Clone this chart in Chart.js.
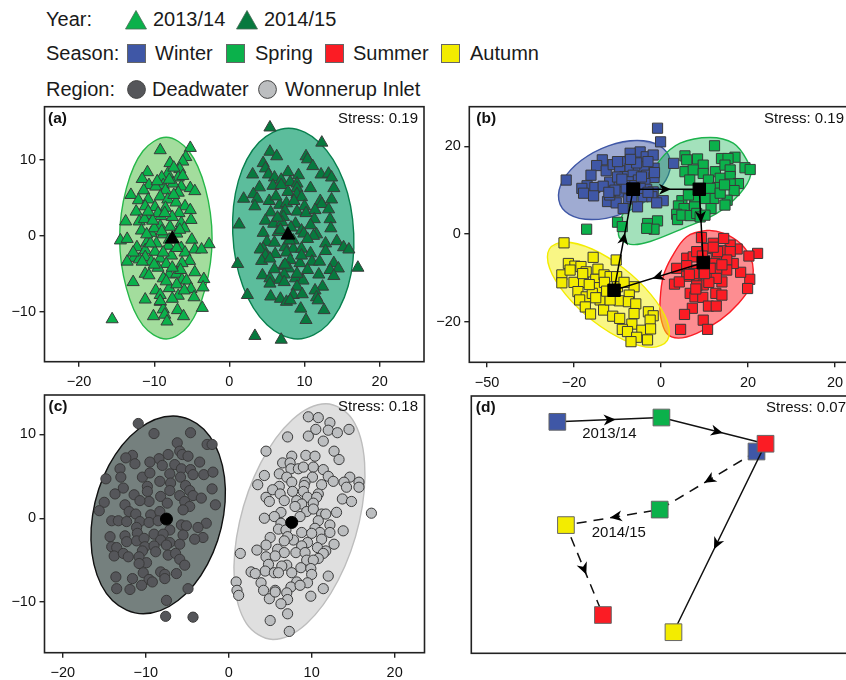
<!DOCTYPE html>
<html>
<head>
<meta charset="utf-8">
<title>MDS ordinations</title>
<script src="https://cdn.jsdelivr.net/npm/chart.js@4"></script>
<style>
  html, body { margin: 0; background: #fff; overflow: hidden; width: 846px; height: 680px; }
  .panel { position: absolute; width: 430px; height: 290px; }
  .lg { position: absolute; font: 20px "Liberation Sans", Arial, sans-serif; color: #1a1a1a; line-height: 22px; white-space: nowrap; }
  svg.lg { overflow: visible; }
</style>
</head>
<body>
<div class="panel" style="left:0;top:100px"><canvas id="a"></canvas></div>
<div class="panel" style="left:430px;top:100px"><canvas id="b"></canvas></div>
<div class="panel" style="left:0;top:390px"><canvas id="c"></canvas></div>
<div class="panel" style="left:430px;top:390px"><canvas id="d"></canvas></div>
<script>
// (a) year
const year1314 = [[-9.2,11.3],[-5.2,11.6],[-5.8,10.4],[-6.2,9.8],[-7.9,9.6],[-6.6,8.8],[-10.9,8.4],[-8.2,8.2],[-11.6,7.5],[-9,7.7],[-6.8,7.7],[-10.7,6.7],[-8.8,6.7],[-9.8,6.5],[-6.4,6.5],[-11.4,6],[-8.5,6],[-7.5,6.9],[-5.2,6.3],[-4.6,5.9],[-6.8,5.7],[-13.1,5.4],[-9.2,5.2],[-12.1,4.7],[-10.8,4.8],[-8.2,4.8],[-7.1,4.4],[-11.2,3.9],[-9.9,3.8],[-8.5,3.7],[-5.9,3.9],[-5.2,3.4],[-12.4,3.2],[-6.7,3],[-11,2.7],[-9.1,2.6],[-13.8,1.9],[-12,1.9],[-11.3,2.2],[-5.1,2.1],[-6.4,1.7],[-9.2,1.3],[-7.9,1.2],[-11.7,.7],[-6,1],[-10.4,.4],[-8.8,.2],[-14.5,-.6],[-13.6,-.4],[-7,.3],[-5,-.5],[-11,-.9],[-12.3,-1.5],[-9.7,-1],[-8.1,-1.3],[-2.7,-1.1],[-6.4,-1.6],[-4.6,-1.8],[-3.7,-1.8],[-11.2,-1.9],[-9.9,-2.1],[-7.7,-2.6],[-5.9,-2.2],[-12.7,-2.9],[-12,-3.1],[-11.2,-2.8],[-9.2,-3],[-5.3,-3.3],[-13.6,-3.4],[-10.4,-3.4],[-8.4,-3.7],[-6.3,-3.6],[-4.6,-4.8],[-11.2,-5],[-10.7,-5.2],[-8,-5.1],[-7,-5],[-8.8,-5.6],[-6.3,-5.8],[-5.7,-5.9],[-3.4,-5.7],[-12.8,-6.1],[-3.5,-6.8],[-5.1,-7],[-8,-6.9],[-9.8,-7.2],[-9.2,-7.8],[-6.8,-7.9],[-4.7,-8.1],[-7.6,-8.3],[-11.2,-8.4],[-9.2,-8.7],[-3.6,-9.5],[-6.9,-9.8],[-8.8,-9.7],[-10.1,-10.6],[-6.1,-10.6],[-8.6,-10.4],[-8.3,-11.3],[-15.6,-11],[-9.5,3],[-7.6,2.5],[-10,1],[-8,-.5],[-10.5,-1],[-6.5,-4.5],[-9,.6],[-11,.2],[-7,-1.6],[-8.8,-2.2],[-9.5,-4.2],[-7.6,-4.2],[-8.4,-6],[-7,-6.4],[-6,-7.2],[-10,-3.8],[-8.6,3],[-7.4,5.4],[-9.6,7.2],[-8,7.4],[-6.2,7.9],[-7.4,9],[-10.2,2],[-6.6,.8],[-12.8,-2.2],[-11.6,-3.4],[-10.8,3.2],[-9.2,-8.6]];
const year1415 = [[5.4,14.3],[12.3,12.3],[5.4,11.1],[6.3,10.5],[10.2,10.5],[10.4,10.1],[4.5,9.6],[4.8,8.9],[11.1,9.2],[3.1,8.1],[5.2,8.1],[7.8,8.4],[9.2,8],[12.2,8.1],[13.2,8.2],[13.6,7.7],[6,7.7],[6.9,7.4],[8.1,7.1],[9,6.9],[4,6.4],[5.8,6.6],[6.9,6.7],[9,6.3],[10.8,6.3],[13.9,6.3],[7.8,5.8],[3.2,5.5],[9,5.5],[1.9,4.9],[3.7,4.9],[9.6,5.1],[13.6,4.8],[5.3,4.6],[12.1,4.6],[3.4,3.9],[6.7,4.1],[7.6,4.3],[10,3.9],[12.3,4.2],[13.2,3.5],[5.5,3.1],[7.4,3.3],[9,3.2],[10.2,3],[11.4,3.4],[4.8,2],[7.2,2.5],[11.3,2.2],[13.4,2.2],[1.3,1.5],[5.9,1.6],[7,1.8],[8.8,1.6],[10.8,1.4],[13.5,1],[4.5,.4],[6.5,.5],[9.6,.7],[9.9,.3],[11.6,.2],[11.2,0],[5,-.8],[6,-.9],[8.5,-.6],[12.8,-1],[14.3,-.7],[4.5,-1.7],[4.1,-1.8],[7.4,-1.5],[8.5,-1.7],[9.6,-1.7],[12.8,-2],[15.2,-1.5],[15.9,-1.8],[4.8,-2.6],[6.1,-2.4],[7.6,-2.2],[10.8,-2.3],[4.3,-3.3],[5.4,-3],[8.1,-3.2],[9.4,-3.6],[11,-3.4],[1.1,-3.7],[13.9,-3.6],[7.2,-4],[7.9,-4.3],[10.4,-4.5],[13.4,-4.5],[14.5,-4.3],[17.1,-4.2],[4.4,-5.2],[7.3,-5.1],[11.9,-5.1],[13.9,-5.3],[5.4,-5.6],[6.7,-5.8],[8.8,-5.6],[9.8,-5.9],[7.3,-6.1],[5.4,-6.3],[12.4,-6.7],[11.4,-7.2],[9,-6.7],[2.4,-7.8],[5.5,-8],[6.8,-8.3],[8.5,-7.8],[9.7,-7.7],[11.6,-8.1],[11.8,-8.5],[7.6,-8.7],[8.1,-8.5],[9.5,-9.6],[12.6,-9.8],[10.2,-11.1],[3.4,-13.2],[6.9,-13.7],[6.8,.8],[8,-.6],[6.4,2.4],[7.4,-3.8],[9,-5],[6,-4.4],[8.2,1.1],[10.4,-.4],[12,-3.4],[8.6,4.6],[6.2,5.2],[9.6,-2.6]];
const yearCentroids = [[-7.6,-.4],[7.8,.1]];
const outline1314 = [[-8.4,13],[-5.4,11.2],[-3.2,6.3],[-2.3,-.3],[-3.2,-6.9],[-5.4,-11.8],[-8.4,-13.6],[-11.5,-11.8],[-13.7,-6.9],[-14.6,-.3],[-13.7,6.3],[-11.5,11.2],[-8.4,13]];
const outline1415 = [[7.9,14.2],[12,12.3],[15.2,7.25],[16.55,.3],[15.8,-6.65],[13.05,-11.74],[9.1,-13.6],[5,-11.74],[1.8,-6.65],[.45,.3],[1.2,7.25],[3.95,12.34],[7.9,14.2]];

// (b) season
const winter = [[-.8,24.1],[-.1,21],[2.9,16.1],[-21.8,12.3],[-13.5,16.9],[-14.8,15.6],[-12.6,14.4],[-16.1,13.4],[-11,15.8],[-8,16.5],[-6,18],[-4.8,18.7],[-3.4,17.6],[-1.8,18],[-9.5,14.4],[-7.1,15],[-5.2,14.7],[-3.7,15.3],[-1.6,15],[-8.3,13.1],[-6.4,13.4],[-3.3,13.4],[-1.6,12.9],[-11.8,11.8],[-9.6,11.5],[-7.5,11.9],[-5.2,12.3],[-3.7,11.5],[-17,11],[-18.2,10.4],[-15.2,10.6],[-13.3,10.9],[-17.8,9.3],[-15.5,8.7],[-9.4,9.6],[-3.3,10.2],[-1.8,9.6],[-7.5,8],[-4.1,8.5],[-2.1,8.5],[.5,7.6],[-12.3,7.4],[-10.3,7.1],[-8.7,5.8],[-5.4,6.2],[-1,7.1],[-6.7,8.5],[-4.8,10.4],[-11.8,8.9],[-10.6,10],[-5.6,16.2],[-7.1,18.4],[-10,13],[-7,11],[-3,9.5],[-12,9.5],[-8,10.5],[-6,11],[-9,12.5],[-4.5,13],[-1.5,14],[-3,16.5],[-7,17],[-10,16.5]];
const spring = [[12.3,20.1],[-17.1,1.1],[5.5,17.8],[5.9,16.9],[8.4,17.1],[9.7,15.7],[13.9,17.2],[17,17.5],[15.4,17.2],[19.3,15.1],[20.5,14.7],[5.5,14.2],[7.4,14.6],[9.7,13.8],[12.5,14.2],[14.7,15.7],[15.9,14.6],[6.6,12.3],[10.9,12.3],[13.6,12.7],[15.9,13.1],[17.8,11.5],[15.9,11.4],[13,10.6],[16.8,9.9],[11.3,10.4],[12.1,8.1],[15.2,7.7],[14.7,6.6],[4.8,7.6],[10.1,8.1],[7.7,6.4],[11.5,5.8],[4,6.4],[5.3,5.8],[3.6,4.5],[3.8,3.3],[4.8,4.3],[6.7,4.2],[8.2,4.7],[9,3.9],[10.1,4.3],[7.8,8.5],[6.3,8.9],[-10,2.7],[-8.9,1.7],[-3.1,2.4],[-.8,3],[-1.6,1.1],[-3.3,1.3],[13.6,9.3],[14.6,11.2]];
const summer = [[22.2,-4.4],[20.2,-5],[20.4,-10.3],[19.9,-12.4],[18.3,-8.7],[16.6,-6.7],[17.5,-3.4],[15.9,-2.5],[14.4,-1],[9.3,-.8],[12,-2.1],[10.5,-3.3],[13.9,-3.8],[15.9,-4],[5.9,-5.5],[7.4,-5.2],[8.2,-4],[12.7,-5.2],[15.1,-5.9],[3.6,-7.8],[5.9,-7.2],[12.4,-6.7],[5.9,-9.6],[8.2,-8.2],[11.6,-9.3],[15.1,-8.2],[12.8,-7.8],[3.1,-11.4],[4.2,-10.9],[8.2,-10.1],[9.7,-11.6],[8.2,-11.8],[14,-10.9],[12.7,-10.1],[6.7,-13.5],[7.8,-14.3],[9.6,-14.4],[12.6,-13.5],[14,-13.9],[10.9,-16.4],[12.7,-16.4],[7.2,-16.9],[5.4,-18.3],[9.7,-19.6],[4.5,-21.7],[10.7,-21.7],[11.3,-7.8],[7.5,-9],[10,-6],[11,-11],[13,-4],[9.5,-5],[6.5,-9.2],[10,-9],[12,-3],[14,-7],[8,-12.5]];
const autumn = [[-22.3,-2],[-15.6,-5.3],[-10.3,-5.9],[-22.8,-9.3],[-22.8,-11.1],[-21.3,-6.7],[-19.8,-7.3],[-20.9,-8.2],[-18.4,-7.4],[-17.2,-8.6],[-14.5,-8],[-20,-11],[-17.8,-11],[-15,-10.3],[-13.1,-9.3],[-19.1,-13.1],[-17.2,-14.3],[-14.2,-12.2],[-15.8,-13.5],[-18.7,-15],[-17.4,-16.6],[-16.2,-18.2],[-14,-15],[-13.2,-17.3],[-11.7,-9.7],[-10.2,-9.7],[-6.2,-12],[-7.3,-13.9],[-9.6,-15.2],[-11.7,-15],[-7.5,-15.4],[-5.8,-15.9],[-6.2,-18.1],[-2.9,-17.7],[-11.1,-18.7],[-9.5,-19.2],[-1.8,-18.6],[-2.5,-19.6],[-6.7,-20.5],[-8.9,-21.7],[-7.7,-22.2],[-4.4,-21.9],[-2.4,-21.6],[-5.6,-23.5],[-6.9,-24.5],[-3.1,-24.1],[-18,-9],[-16.5,-11.5],[-13,-11],[-12.5,-13],[-10,-12],[-8.5,-11],[-15,-14.5]];
const seasonCentroids = [[-6.4,10.2],[8.8,10.2],[9.7,-6.5],[-10.8,-12.8],[-6.4,10.2]];
const outlineWinter = [[-5.5,21.3],[-.3,20.1],[2.1,16.8],[1.1,12.3],[-3.1,7.8],[-9.3,4.5],[-15.9,3.3],[-21.1,4.5],[-23.5,7.8],[-22.5,12.3],[-18.3,16.8],[-12.1,20.1],[-5.5,21.3]];
const outlineSpring = [[-9.8,.2],[-8.7,4.7],[-4.8,9.3],[-.2,16.9],[4.4,20.7],[11.3,22],[16.6,20.7],[19.7,16.9],[20.6,13.4],[18.2,9.3],[12.8,4.7],[5.1,1.3],[-2.5,-1.7],[-6.4,-2.4],[-9,-1.4],[-9.8,.2]];
const outlineSummer = [[10.5,.8],[14.3,.2],[18.2,-2.1],[20.5,-5.2],[21.2,-8.2],[20.5,-12],[17.8,-15.8],[13.6,-19.6],[8.2,-22.6],[4,-23.7],[1.3,-22.6],[-.1,-18.8],[-.2,-15],[.5,-9.7],[2.5,-5.2],[5.9,-.6],[10.5,.8]];
const outlineAutumn = [[-22.1,-1.8],[-15.86,-3.4],[-8.6,-7.8],[-2.3,-13.8],[1.4,-19.8],[1.46,-24.2],[-2.1,-25.8],[-8.34,-24.2],[-15.6,-19.8],[-21.9,-13.8],[-25.6,-7.8],[-25.66,-3.4],[-22.1,-1.8]];

// (c) region
const deadwater = [[-10.9,11.3],[-9,10.1],[-4.6,10.2],[-6.2,9],[-2.6,8.8],[-2,8.8],[-5.9,8],[-5.6,7.6],[-4.9,7.4],[-7.3,7.6],[-8.4,7.1],[-11.6,7.5],[-12.4,7.2],[-11.3,6.5],[-9.5,6.7],[-3.5,6.7],[-8,6.3],[-6.5,6.4],[-13.1,5.9],[-13,4.9],[-14.8,4.7],[-10.4,4.9],[-9.5,5.4],[-7.1,5.3],[-5.7,5.9],[-4.6,5.8],[-4.3,5.2],[-3,5.2],[-1.9,5.5],[-5.8,4.9],[-8.3,4.4],[-7,4.2],[-5.2,3.9],[-9.8,3.8],[-12.7,3.6],[-2,3.5],[-7.1,3.3],[-4.7,3.3],[-9.8,3.2],[-13.7,2.9],[-11.4,2.8],[-8.2,2.6],[-5.9,2.7],[-4.3,2.7],[-3.3,2.4],[-9.6,2],[-10.7,2.1],[-5.3,2],[-15,1.9],[-12.5,1.6],[-4.7,1.4],[-1.6,1.6],[-7.4,1.8],[-15.6,.9],[-12,.8],[-11.2,.5],[-5.5,1],[-9.4,.4],[-8.3,.8],[-14.1,-.3],[-13.3,-.3],[-12.3,-.4],[-10.7,-.4],[-9.6,-.5],[-8.5,-.3],[-5.7,-.8],[-5.1,-.9],[-2.7,-.6],[-3.7,-1.1],[-11.1,-1.1],[-7.1,-1.4],[-11,-1.8],[-14.3,-2.2],[-12.5,-2.1],[-9,-1.9],[-7.9,-1.9],[-5.5,-2],[-3.1,-2.3],[-4.1,-2.5],[-12.3,-2.8],[-11.1,-2.7],[-10.2,-2.4],[-8.2,-2.6],[-7.1,-2.9],[-5.9,-3.1],[-14.1,-3.4],[-13.5,-3.5],[-10.1,-3.4],[-9,-3.3],[-7.5,-3.2],[-10.4,-3.9],[-8.8,-4],[-13.8,-4.5],[-12.7,-4.2],[-12.1,-4.6],[-10.8,-4.6],[-7.3,-4.4],[-6.4,-4.2],[-5.9,-4.9],[-9.9,-5.3],[-10.8,-5.4],[-5.3,-5.6],[-10.3,-6.5],[-8.2,-6.4],[-7.7,-6.7],[-6.3,-6.6],[-13.6,-7],[-11.6,-7.2],[-9.6,-7.3],[-9.2,-7.6],[-7.7,-7.2],[-10.5,-8],[-13.5,-8.4],[-11.9,-8.5],[-4.9,-8.4],[-7.5,-9.8],[-7.6,-11.7],[-4.3,-11.8]];
const wonnerup = [[9.6,12.1],[10.8,12],[12.2,11.4],[14.5,10.6],[10.5,10.6],[12,10.5],[13.1,10.2],[9.6,9.8],[7.1,9.7],[11.4,9.2],[4.5,8],[12.7,8],[7.6,7.4],[9.3,7.5],[10.4,7.4],[13.3,7],[6.5,6.6],[7.4,6.6],[7.5,5.9],[8.4,5.9],[9,6.1],[10.2,6.1],[11.4,5.8],[6.1,5.3],[4.3,5.1],[12,5],[7,4.9],[10.1,4.9],[12.6,4.4],[14.6,4.9],[7.6,4.3],[9.2,4.3],[13.9,4.3],[15.7,4.3],[3.5,4],[6.1,3.8],[9.1,3.9],[11.2,4],[14.2,3.7],[15.7,3.7],[5.3,3.4],[7.7,3.2],[6.2,2.9],[9,3.2],[10.8,2.9],[4.5,2.5],[9.5,2.5],[6.7,2.1],[4.9,2],[10.6,2.5],[13.7,2.3],[14.8,2],[8.2,2.1],[8.8,1.7],[10.2,1.8],[8,1.4],[9.4,.8],[10.2,1.1],[11.2,.5],[11.7,.5],[13,.7],[6.3,.7],[5.5,.2],[17.2,.6],[4.3,0],[8.6,.2],[10.8,-.3],[6.3,-.6],[6,-1.3],[12.2,-.8],[10.4,-1.2],[6.9,-1.4],[8.8,-1.7],[11,-1.7],[12.2,-1.7],[13.8,-1.5],[7.8,-2.6],[10,-1.8],[5,-2.3],[7.1,-2.2],[11.2,-2.5],[6.7,-2.7],[9.5,-2.9],[4.5,-3.2],[12.7,-3.1],[8.8,-3.3],[10.7,-3.5],[11.7,-3.9],[3.4,-3.8],[5.9,-3.7],[6.7,-4.1],[8.1,-4.1],[9.2,-4.1],[1.4,-4.2],[4.5,-4.6],[5.6,-4.5],[11.4,-4.2],[10.8,-4.8],[9.4,-5],[10.2,-5],[4.8,-5.5],[7,-5.6],[6.4,-5.7],[8.7,-5.9],[9.9,-6],[4.4,-6.3],[2.7,-6.4],[3.2,-6.6],[5.5,-6.5],[6,-6.5],[7.6,-6.5],[10,-6.7],[12,-6.9],[.9,-7.6],[3.9,-7.7],[8.2,-7.6],[9.5,-7.7],[7.5,-8.2],[8.6,-8],[4.2,-8.6],[5.6,-8.6],[7,-8.9],[11.4,-8.4],[1,-8.6],[1.2,-9.2],[9.9,-9.3],[4.9,-9.6],[5.6,-8.8],[7.1,-9.7],[6.3,-10.2],[7.1,-11.4],[5,-12.2],[7.3,-13.5]];
const regionCentroids = [[-7.5,-.1],[7.6,-.5]];
const outlineDeadwater = [[-6.7,12.2],[-3,10.62],[-.76,6.3],[-.6,.4],[-2.56,-5.5],[-6.11,-9.82],[-10.3,-11.4],[-14.01,-9.82],[-16.24,-5.5],[-16.4,.4],[-14.44,6.3],[-10.89,10.62],[-6.7,12.2]];
const outlineWonnerup = [[11.73,13.66],[14.91,11.78],[16.38,6.63],[15.75,-.4],[13.18,-7.43],[9.37,-12.58],[5.33,-14.46],[2.15,-12.58],[.68,-7.43],[1.31,-.4],[3.88,6.63],[7.69,11.78],[11.73,13.66]];

// (d) season by year, means
const means1314 = [[-24.1,23.9],[.1,24.9],[24.3,18.8],[2.9,-25]];
const means1415 = [[22.2,17],[-.3,3.5],[-22.1,-.1],[-13.5,-21]];

// tick labels
const xTicksA = [-20, -10, 0, 10, 20];
const yTicksA = [-10, 0, 10];
const xTicksB = [-40, -20, 0, 20, 40];
const xLabelsB = ['−50', '−20', '0', '20', '20'];
const yTicksB = [-20, 0, 20];
const xTicksC = [-20, -10, 0, 10, 20];
const yTicksC = [-10, 0, 10];

const cBlue = '#3f57a6', cGreen = '#0bb14b', cRed = '#fb1c24', cYellow = '#f3ec00';
const edge = '#3a3a3a';
const tickFont = { family: '"Liberation Sans", Arial, sans-serif', size: 14.5 };

const xy = pts => pts.map(p => ({ x: p[0], y: p[1] }));
const minusSign = v => String(v).replace('-', '−');

function pointsSet(pts, style, color, radius, border) {
	return { data: xy(pts), pointStyle: style, pointRadius: radius, backgroundColor: color,
		pointBackgroundColor: color, pointBorderColor: border || edge, pointBorderWidth: 1, showLine: false };
}
// first vertex repeats as the last one; one extra vertex each side keeps the curve smooth at the join,
// and those two extra segments are not stroked
function outlineSet(pts, fillColor, lineColor) {
	const wrapped = [pts[pts.length - 2]].concat(pts, [pts[1]]);
	const lastSeg = wrapped.length - 2;
	return { data: xy(wrapped), showLine: true, pointRadius: 0, tension: 0.35, fill: 'shape',
		backgroundColor: fillColor, borderColor: lineColor, borderWidth: 1.4,
		segment: { borderColor: c => (c.p0DataIndex === 0 || c.p0DataIndex === lastSeg) ? 'transparent' : undefined } };
}

// frame, panel letter, stress text and free labels
const panelText = {
	id: 'panelText',
	afterDatasetsDraw(chart, args, o) {
		const ctx = chart.ctx, ar = chart.chartArea;
		ctx.save();
		ctx.strokeStyle = '#222';
		ctx.lineWidth = 1.6;
		ctx.strokeRect(ar.left, ar.top, ar.right - ar.left, ar.bottom - ar.top);
		ctx.textBaseline = 'middle';
		ctx.fillStyle = '#111';
		ctx.font = 'bold 15.5px "Liberation Sans", Arial, sans-serif';
		ctx.textAlign = 'left';
		ctx.fillText(o.letter, ar.left + o.letterX, ar.top + 12);
		ctx.font = '15px "Liberation Sans", Arial, sans-serif';
		ctx.textAlign = 'right';
		ctx.fillText(o.stress, o.stressX, ar.top + 12);
		ctx.textAlign = 'center';
		(o.labels || []).forEach(l => {
			ctx.fillText(l.text, chart.scales.x.getPixelForValue(l.x), chart.scales.y.getPixelForValue(l.y));
		});
		ctx.restore();
	}
};

// arrow heads on the segments of a line dataset, placed at a fraction along each
const arrowHeads = {
	id: 'arrowHeads',
	afterDatasetsDraw(chart, args, o) {
		const ctx = chart.ctx;
		(o.sets || []).forEach(s => {
			const pts = chart.getDatasetMeta(s.index).data;
			s.fracs.forEach((f, i) => {
				const a = pts[i], b = pts[i + 1];
				const ang = Math.atan2(b.y - a.y, b.x - a.x);
				ctx.save();
				ctx.translate(a.x + (b.x - a.x) * f, a.y + (b.y - a.y) * f);
				ctx.rotate(ang);
				ctx.fillStyle = '#000';
				ctx.beginPath();
				ctx.moveTo(0, 0);
				ctx.lineTo(-12, -5.5);
				ctx.lineTo(-8.5, 0);
				ctx.lineTo(-12, 5.5);
				ctx.closePath();
				ctx.fill();
				ctx.restore();
			});
		});
	}
};

function axis(range, ticks, labels, size, isY) {
	return {
		type: 'linear', min: range[0], max: range[1],
		grid: { drawOnChartArea: false, drawTicks: true, tickLength: 5, color: '#222', lineWidth: 1.4 },
		border: { display: false },
		afterBuildTicks: s => { s.ticks = ticks.map(v => ({ value: v })); },
		afterFit: s => {
			if (isY) s.width = size; else s.height = size;
			s.paddingTop = s.paddingBottom = s.paddingLeft = s.paddingRight = 0;
		},
		ticks: {
			autoSkip: false, maxRotation: 0, color: '#111', font: tickFont, padding: isY ? 3.5 : 7,
			callback: v => labels ? labels[ticks.indexOf(v)] : minusSign(v)
		}
	};
}

function panel(id, datasets, padding, scales, text, arrows) {
	return new Chart(document.getElementById(id), {
		type: 'scatter',
		data: { datasets },
		options: {
			responsive: false, animation: false, layout: { padding, autoPadding: false },
			scales,
			plugins: { legend: { display: false }, tooltip: { enabled: false }, panelText: text, arrowHeads: { sets: arrows || [] } }
		},
		plugins: [panelText, arrowHeads]
	});
}

function sizeCanvases() {
	['a', 'b', 'c', 'd'].forEach(id => {
		const c = document.getElementById(id);
		c.width = 430; c.height = 290;
	});
}
sizeCanvases();

panel('a', [
	pointsSet(yearCentroids, 'triangle', '#000', 8, '#000'),
	pointsSet(year1415, 'triangle', '#07793e', 7),
	pointsSet(year1314, 'triangle', cGreen, 7),
	outlineSet(outline1415, '#5cbd9c', '#08804e'),
	outlineSet(outline1314, '#a3dd9d', '#27b84a')
], { left: 0, right: 6, top: 6.7, bottom: 0 }, {
	x: axis([-24.6, 25.9], xTicksA, null, 28.3, false),
	y: axis([-16.6, 17.04], yTicksA, null, 44.5, true)
}, { letter: '(a)', letterX: 3.5, stress: 'Stress: 0.19', stressX: 418 });

panel('b', [
	Object.assign(pointsSet(seasonCentroids, 'rect', '#000', 8.8, '#000'),
		{ showLine: true, borderColor: '#000', borderWidth: 1.5 }),
	pointsSet(winter, 'rect', cBlue, 7.2),
	pointsSet(spring, 'rect', cGreen, 7.2),
	pointsSet(summer, 'rect', cRed, 7.2),
	pointsSet(autumn, 'rect', cYellow, 7.2),
	outlineSet(outlineSpring, 'rgba(13,177,75,.38)', '#1db34d'),
	outlineSet(outlineWinter, 'rgba(63,87,166,.5)', cBlue),
	outlineSet(outlineAutumn, 'rgba(243,236,0,.48)', cYellow),
	outlineSet(outlineSummer, 'rgba(251,28,36,.5)', cRed)
], { left: 0, right: 8, top: 6.7, bottom: 0 }, {
	x: axis([-44.07, 43.9], xTicksB, xLabelsB, 27.7, false),
	y: axis([-29.2, 29], yTicksB, null, 39.3, true)
}, { letter: '(b)', letterX: 7, stress: 'Stress: 0.19', stressX: 414 },
[{ index: 0, fracs: [0.57, 0.46, 0.57, 0.57] }]);

panel('c', [
	pointsSet(regionCentroids, 'circle', '#000', 6, '#000'),
	pointsSet(wonnerup, 'circle', '#bcbec0', 5.1),
	pointsSet(deadwater, 'circle', '#55565a', 5.1),
	outlineSet(outlineDeadwater, '#75807e', '#111'),
	outlineSet(outlineWonnerup, '#dfdfdf', '#bdbdbd')
], { left: 0, right: 5.5, top: 5, bottom: 0 }, {
	x: axis([-22.2, 23.6], xTicksC, null, 27.3, false),
	y: axis([-16.04, 14.7], yTicksC, null, 44.5, true)
}, { letter: '(c)', letterX: 4, stress: 'Stress: 0.18', stressX: 418 });

const meanColors = [cBlue, cGreen, cRed, cYellow];
const meanColors14 = [cBlue, cGreen, cYellow, cRed];
panel('d', [
	{ data: xy(means1314), showLine: true, borderColor: '#111', borderWidth: 1.5, pointStyle: 'rect', pointRadius: 11.8,
		pointBackgroundColor: meanColors, pointBorderColor: '#666', pointBorderWidth: 1 },
	{ data: xy(means1415), showLine: true, borderColor: '#111', borderWidth: 1.5, borderDash: [10, 7], pointStyle: 'rect', pointRadius: 11.8,
		pointBackgroundColor: meanColors14, pointBorderColor: '#666', pointBorderWidth: 1 }
], { left: 41.3, right: 8, top: 6, bottom: 26.7 }, {
	x: { type: 'linear', display: false, min: -44.1, max: 44.4 },
	y: { type: 'linear', display: false, min: -29.9, max: 29.9 }
}, { letter: '(d)', letterX: 4.5, stress: 'Stress: 0.07', stressX: 416,
	labels: [{ text: '2013/14', x: -12, y: 21.2 }, { text: '2014/15', x: -9.8, y: -1.8 }] },
[{ index: 0, fracs: [0.56, 0.59, 0.56] }, { index: 1, fracs: [0.54, 0.53, 0.55] }]);

// legend above the panels
const legendText = [
	['Year:', 46, 19], ['2013/14', 153, 19], ['2014/15', 264, 19],
	['Season:', 46, 52.7], ['Winter', 155, 52.7], ['Spring', 255, 52.7], ['Summer', 353, 52.7], ['Autumn', 470, 52.7],
	['Region:', 46, 89], ['Deadwater', 152, 89], ['Wonnerup Inlet', 285, 89]
];
const legendTriangles = [[136, cGreen], [247, '#07793e']];
const legendSquares = [[127, cBlue], [226, cGreen], [325, cRed], [441, cYellow]];
const legendCircles = [[127, '#55565a'], [258, '#bcbec0']];

function addLegend() {
	let html = '';
	legendText.forEach(t => {
		html += `<div class="lg" style="left:${t[1]}px;top:${t[2] - 11}px">${t[0]}</div>`;
	});
	legendTriangles.forEach(t => {
		html += `<svg class="lg" style="left:${t[0] - 11}px;top:10px" width="22" height="20"><polygon points="11,0.5 21.5,19 0.5,19" fill="${t[1]}" stroke="#4a6a55" stroke-width="0.8"/></svg>`;
	});
	legendSquares.forEach(t => {
		html += `<svg class="lg" style="left:${t[0]}px;top:44px" width="19" height="19"><rect x="0.5" y="0.5" width="18" height="18" fill="${t[1]}" stroke="#666" stroke-width="1"/></svg>`;
	});
	legendCircles.forEach(t => {
		html += `<svg class="lg" style="left:${t[0]}px;top:80px" width="19" height="19"><circle cx="9.5" cy="9.5" r="8.9" fill="${t[1]}" stroke="#444" stroke-width="1"/></svg>`;
	});
	document.body.insertAdjacentHTML('beforeend', html);
}
addLegend();
</script>
</body>
</html>
